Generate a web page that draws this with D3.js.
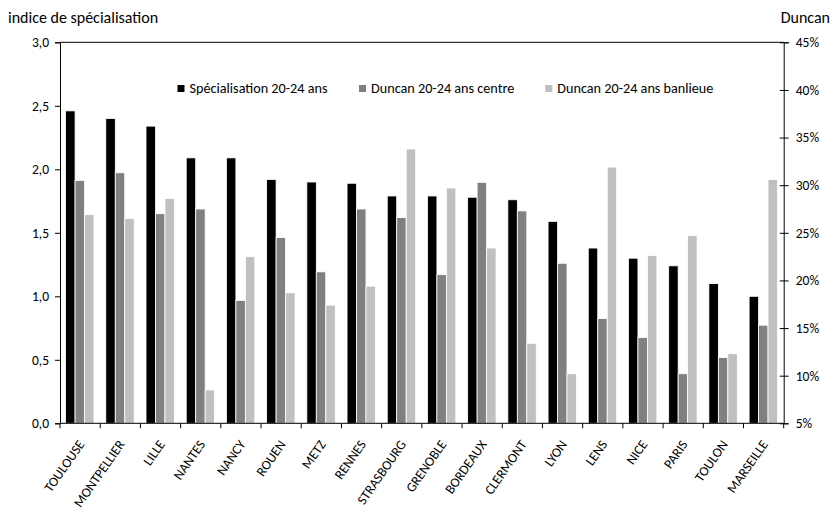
<!DOCTYPE html>
<html><head><meta charset="utf-8">
<script src="https://cdn.jsdelivr.net/npm/d3@7/dist/d3.min.js"></script>
<style>
body{margin:0;background:#fff;}
svg text{font-family:Carlito,Lato,"Open Sans",sans-serif;fill:#000;}
</style></head>
<body><svg id="c" width="836" height="512"></svg>
<script>
const cities = ["TOULOUSE","MONTPELLIER","LILLE","NANTES","NANCY","ROUEN","METZ","RENNES","STRASBOURG","GRENOBLE","BORDEAUX","CLERMONT","LYON","LENS","NICE","PARIS","TOULON","MARSEILLE"];
const specialisation = [2.46,2.40,2.34,2.09,2.09,1.92,1.90,1.89,1.79,1.79,1.78,1.76,1.59,1.38,1.30,1.24,1.10,1.00];
const duncanCentre = [30.5,31.3,27.0,27.5,17.9,24.5,20.9,27.5,26.6,20.6,30.3,27.3,21.8,16.0,14.0,10.2,11.9,15.3];
const duncanBanlieue = [26.9,26.5,28.6,8.5,22.5,18.7,17.4,19.4,33.8,29.7,23.4,13.4,10.2,31.9,22.6,24.7,12.3,30.6];
const seriesNames = ["Spécialisation 20-24 ans","Duncan 20-24 ans centre","Duncan 20-24 ans banlieue"];
const seriesColors = ["#000000","#808080","#c0c0c0"];
const leftTicks = [0,0.5,1,1.5,2,2.5,3];
const rightTicks = [5,10,15,20,25,30,35,40,45];

const svg = d3.select("#c");
const L = 60, R = 783.7, T = 42.3, B = 423.3;
const fs = 13.5;

const x0 = d3.scaleBand().domain(cities).range([L, R]);
const x1 = d3.scaleBand().domain([0,1,2]).range([5.6, 34]);
const yL = d3.scaleLinear().domain([0,3]).range([B, T]);
const yR = d3.scaleLinear().domain([5,45]).range([B, T]);

const rows = cities.map((c,i)=>({c, v:[
  {s:0, y:yL(specialisation[i])},
  {s:1, y:yR(duncanCentre[i])},
  {s:2, y:yR(duncanBanlieue[i])}
]}));

const g = svg.append("g");
g.selectAll("g.grp").data(rows).join("g").attr("class","grp")
  .attr("transform", d=>`translate(${x0(d.c)},0)`)
  .selectAll("rect").data(d=>d.v).join("rect")
  .attr("x", d=>x1(d.s)).attr("width", x1.bandwidth())
  .attr("y", d=>d.y).attr("height", d=>B-d.y)
  .attr("fill", d=>seriesColors[d.s])
  .attr("stroke", "#fff").attr("stroke-width", 0.8);

// top border
svg.append("line").attr("x1",L).attr("x2",R).attr("y1",T).attr("y2",T).attr("stroke","#000").attr("stroke-width",1);

// left axis
const ax = svg.append("g").attr("transform",`translate(${L},0)`)
  .call(d3.axisLeft(yL).tickValues(leftTicks).tickSize(5).tickPadding(6).tickFormat(d=>d3.format(".1f")(d).replace(".",",")));
// right axis
const ar = svg.append("g").attr("transform",`translate(${R},0)`)
  .call(d3.axisRight(yR).tickValues(rightTicks).tickSize(5).tickPadding(7).tickFormat(d=>d+"%"));
ar.selectAll(".tick line").attr("x1",-4);
// bottom axis
const ab = svg.append("g").attr("transform",`translate(0,${B})`)
  .call(d3.axisBottom(x0).tickSize(0).tickFormat(""));
const bounds = cities.map(c=>x0(c)).concat([R]);
svg.append("g").selectAll("line").data(bounds).join("line")
  .attr("x1",d=>d).attr("x2",d=>d).attr("y1",B).attr("y2",B+5).attr("stroke","#000");

[ax,ar,ab].forEach(a=>{
  a.select(".domain").attr("stroke","#000");
  a.selectAll(".tick line").attr("stroke","#000");
  a.selectAll("text").attr("font-size",fs).attr("font-family","Carlito,Lato,sans-serif").attr("fill","#000");
});
ab.select(".domain").attr("d",`M${L},0H${R}`);

// x labels
svg.append("g").selectAll("text").data(cities).join("text")
  .attr("transform", d=>`translate(${x0(d)+x0.bandwidth()/2+5},${B+21}) rotate(-55)`)
  .attr("text-anchor","end").attr("font-size",fs).text(d=>d);

// titles
svg.append("text").attr("x",8).attr("y",23).attr("font-size",16).text("indice de spécialisation");
svg.append("text").attr("x",830).attr("y",23).attr("text-anchor","end").attr("font-size",16).text("Duncan");

// legend
const legX = [177.5, 359, 545.3];
const lg = svg.append("g").selectAll("g").data(seriesNames).join("g")
  .attr("transform",(d,i)=>`translate(${legX[i]},85)`);
lg.append("rect").attr("width",7).attr("height",7).attr("fill",(d,i)=>seriesColors[i]);
lg.append("text").attr("x",12).attr("y",8).attr("font-size",14.2).text(d=>d);
</script></body></html>
